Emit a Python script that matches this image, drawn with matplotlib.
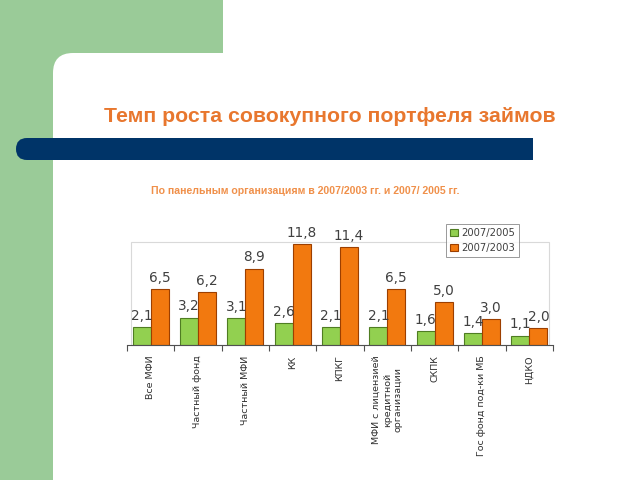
import matplotlib.pyplot as plt
import numpy as np
from matplotlib.patches import Rectangle, FancyBboxPatch

categories = ["Все МФИ", "Частный фонд", "Частный МФИ", "КК", "КПКГ",
              "МФИ с лицензией\nкредитной\nорганизации", "СКПК",
              "Гос фонд под-ки МБ", "НДКО"]
growth_0705 = [2.1, 3.2, 3.1, 2.6, 2.1, 2.1, 1.6, 1.4, 1.1]
growth_0703 = [6.5, 6.2, 8.9, 11.8, 11.4, 6.5, 5.0, 3.0, 2.0]
series_names = ["2007/2005", "2007/2003"]

W, H = 640, 480
fig = plt.figure(figsize=(6.4, 4.8), dpi=100)

# slide background in pixel coords
bg = fig.add_axes([0, 0, 1, 1])
bg.set_xlim(0, W)
bg.set_ylim(H, 0)
bg.axis("off")
green = "#9acb98"
bg.add_patch(Rectangle((0, 0), 53, H, facecolor=green, edgecolor="none"))
bg.add_patch(Rectangle((0, 0), 223, 53, facecolor=green, edgecolor="none"))
bg.add_patch(Rectangle((53, 53), 30, 30, facecolor=green, edgecolor="none"))
bg.add_patch(FancyBboxPatch((53, 53), 700, 600, boxstyle="round,pad=0,rounding_size=20",
                            facecolor="white", edgecolor="none"))
bg.add_patch(FancyBboxPatch((16, 138), 700, 22, boxstyle="round,pad=0,rounding_size=11",
                            facecolor="#003468", edgecolor="none"))
bg.add_patch(Rectangle((533, 130), 200, 40, facecolor="white", edgecolor="none"))

bg.text(330, 117, "Темп роста совокупного портфеля займов", ha="center", va="center",
        fontsize=15.3, fontweight="bold", color="#e8772e", family="Liberation Sans")
bg.text(305, 191, "По панельным организациям в 2007/2003 гг. и 2007/ 2005 гг.",
        ha="center", va="center", fontsize=7.6, fontweight="bold", color="#f0904a",
        family="Liberation Sans")

# plot area frame
bg.add_patch(Rectangle((131, 242), 418, 103, facecolor="none", edgecolor="#d9d9d9", lw=0.8))

ax = fig.add_axes([127 / W, 1 - 345 / H, (553 - 127) / W, (345 - 242) / H])
ax.patch.set_alpha(0)
x = np.arange(len(categories))
bw = 0.38
b1 = ax.bar(x - 0.19, growth_0705, bw, color="#92d050", edgecolor="#4f7d22", lw=0.8,
            label=series_names[0])
b2 = ax.bar(x + 0.19, growth_0703, bw, color="#f2790f", edgecolor="#9c3f00", lw=0.8,
            label=series_names[1])
for bars, vals in ((b1, growth_0705), (b2, growth_0703)):
    for r, v in zip(bars, vals):
        ax.annotate(f"{v:.1f}".replace(".", ","), (r.get_x() + r.get_width() / 2, v),
                    xytext=(0, 3), textcoords="offset points", ha="center", va="bottom",
                    fontsize=9.8, color="#404040")

ax.set_xlim(-0.5, len(categories) - 0.5)
ax.set_ylim(0, 12)
ax.set_yticks([])
for s in ["top", "right", "left"]:
    ax.spines[s].set_visible(False)
ax.spines["bottom"].set_color("#505050")
ax.set_xticks(np.arange(len(categories) + 1) - 0.5)
ax.set_xticklabels([])
ax.tick_params(axis="x", length=4, color="#505050", direction="out")
for i, c in enumerate(categories):
    ax.text(i, -0.1, c, transform=ax.get_xaxis_transform(), rotation=90, ha="center",
            va="top", multialignment="center", fontsize=6.8, color="#303030",
            linespacing=1.3)

leg = fig.legend(loc="upper left", bbox_to_anchor=(441 / W, 1 - 219 / H), fontsize=7.2,
                 frameon=True, fancybox=False, edgecolor="#808080", handlelength=0.8,
                 handleheight=0.8, handletextpad=0.3, borderpad=0.4, labelspacing=0.5)
leg.get_frame().set_linewidth(0.7)
for t in leg.get_texts():
    t.set_color("#404040")

fig.savefig("out.png", dpi=100)
